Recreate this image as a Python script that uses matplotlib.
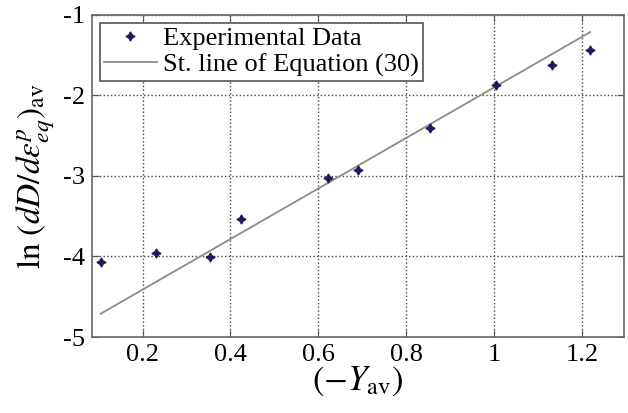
import matplotlib
matplotlib.use("Agg")
import matplotlib.pyplot as plt

# experimental points
y_av = [0.105, 0.231, 0.354, 0.425, 0.622, 0.689, 0.854, 1.003, 1.131, 1.218]
ln_rate = [-4.07, -3.96, -4.01, -3.54, -3.02, -2.93, -2.40, -1.87, -1.62, -1.435]

# straight line of Equation (30), end points
fit_x = [0.105, 1.218]
fit_y = [-4.71, -1.215]

xticks = [0.2, 0.4, 0.6, 0.8, 1.0, 1.2]
xticklabels = ["0.2", "0.4", "0.6", "0.8", "1", "1.2"]
yticks = [-5, -4, -3, -2, -1]
yticklabels = ["-5", "-4", "-3", "-2", "-1"]

plt.rcParams["font.family"] = ["Liberation Serif", "DejaVu Serif"]
plt.rcParams["mathtext.fontset"] = "stix"

fig = plt.figure(figsize=(6.28, 4.13), dpi=100)
ax = fig.add_axes([0.1465, 0.184, 0.847, 0.78])

ax.plot(y_av, ln_rate, linestyle="none", marker=(4, 1, 0), markersize=6.5,
        color="#1c1c5a", label="Experimental Data", zorder=3)
ax.plot(fit_x, fit_y, color="#8c8c84", linewidth=1.3, label="St. line of Equation (30)")

ax.set_xlim(0.085, 1.295)
ax.set_ylim(-5, -1)
ax.set_xticks(xticks)
ax.set_xticklabels(xticklabels)
ax.set_yticks(yticks)
ax.set_yticklabels(yticklabels)
ax.tick_params(direction="in", top=True, right=True, labelsize=19, color="#555555",
               length=5, pad=5)
ax.grid(True, linestyle=":", color="#444444", linewidth=1.0)
for s in ax.spines.values():
    s.set_color("#666666")
    s.set_linewidth(1.2)

ax.set_xlabel(r"$(-Y_{\mathrm{av}})$", fontsize=25, labelpad=-1)
ax.set_ylabel(r"$\ln\,(dD/d\varepsilon^{p}_{eq})_{\mathrm{av}}$", fontsize=24, labelpad=4)

leg = ax.legend(loc="upper left", fontsize=19, frameon=True, fancybox=False,
                borderpad=0.15, handlelength=2.0, handletextpad=0.25, labelspacing=0.1,
                borderaxespad=0.3)
leg.get_frame().set_edgecolor("#555555")
leg.get_frame().set_linewidth(1.2)
leg.get_frame().set_alpha(1)

fig.savefig("out.png", dpi=100)
